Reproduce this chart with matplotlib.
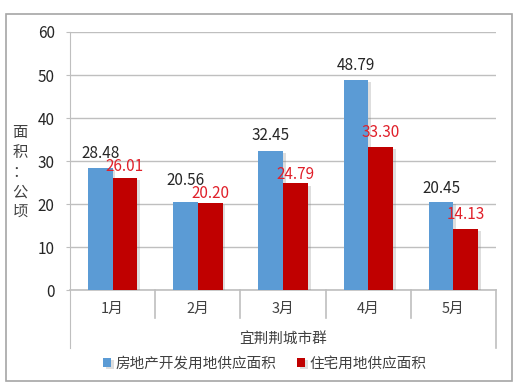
import matplotlib
matplotlib.use("Agg")
import matplotlib.pyplot as plt
import matplotlib.patheffects as pe
from matplotlib.patches import Rectangle
import numpy as np

plt.rcParams['font.family'] = ['Noto Sans CJK SC', 'DejaVu Sans']

# data
months = ["1月", "2月", "3月", "4月", "5月"]
group_name = "宜荆荆城市群"
dev_land = [28.48, 20.56, 32.45, 48.79, 20.45]
res_land = [26.01, 20.20, 24.79, 33.30, 14.13]
series_names = ["房地产开发用地供应面积", "住宅用地供应面积"]

# label offsets (points) to mimic the original placement
dev_off = [10, 15, 10.5, 10.5, 10]
res_off = [8.5, 7, 6.5, 10.5, 10.5]

blue = "#5B9BD5"
red = "#C00000"
grid_c = "#BFBFBF"
text_c = "#404040"

fig = plt.figure(figsize=(5.3, 3.9), dpi=100)
fig.patches.append(Rectangle((0.011, 0.023), 0.955, 0.941, transform=fig.transFigure,
                             fill=False, edgecolor="#A6A6A6", linewidth=1.2))

ax = fig.add_axes([0.132, 0.256, 0.804, 0.662])
x = np.arange(len(months))
w = 0.29
shadow = [pe.SimplePatchShadow(offset=(2, -1.5), shadow_rgbFace="#7F7F7F", alpha=0.25), pe.Normal()]
b1 = ax.bar(x - w / 2, dev_land, w, color=blue, label=series_names[0], zorder=3, path_effects=shadow)
b2 = ax.bar(x + w / 2, res_land, w, color=red, label=series_names[1], zorder=3, path_effects=shadow)

for i, v in enumerate(dev_land):
    ax.annotate(f"{v:.2f}", (x[i] - w / 2, v), xytext=(0, dev_off[i]), textcoords="offset points",
                ha="center", va="center", fontsize=11, color="#262626", zorder=5)
for i, v in enumerate(res_land):
    ax.annotate(f"{v:.2f}", (x[i] + w / 2, v), xytext=(0, res_off[i]), textcoords="offset points",
                ha="center", va="center", fontsize=11, color="#E0202A", zorder=5)

ax.set_xlim(-0.5, len(months) - 0.5)
ax.set_ylim(0, 60)
ax.set_yticks(range(0, 61, 10))
ax.yaxis.grid(True, color=grid_c, linewidth=1, zorder=0)
ax.tick_params(axis="y", length=3, color=grid_c, pad=8, labelsize=11, labelcolor="#262626")
ax.set_xticks([])
for s in ["top", "right", "bottom"]:
    ax.spines[s].set_visible(False)
ax.spines["left"].set_color(grid_c)
ax.spines["left"].set_bounds(-60 * 0.2248, 60)

# category table under the axis
lk = dict(transform=ax.transAxes, color=grid_c, linewidth=1.2, clip_on=False)
ax.plot([0, 1], [0, 0], **lk)
ax.plot([1, 1], [0, -0.2248], **lk)
for i in range(1, len(months)):
    ax.plot([i / len(months)] * 2, [0, -0.1085], **lk)
for i, m in enumerate(months):
    ax.text((i + 0.5) / len(months), -0.072, m, transform=ax.transAxes, ha="center", va="center",
            fontsize=10.5, color=text_c)
ax.text(0.5, -0.187, group_name, transform=ax.transAxes, ha="center", va="center",
        fontsize=10.5, color=text_c)

ax.text(-0.117, 0.457, "面\n积\n：\n公\n顷", transform=ax.transAxes, ha="center", va="center",
        fontsize=11, color=text_c, linespacing=1.2)

fig.legend(handles=[b1, b2], labels=series_names, loc="center", bbox_to_anchor=(0.5, 0.067),
           ncol=2, frameon=False, fontsize=10.5, handlelength=0.55, handleheight=0.55,
           handletextpad=0.3, columnspacing=1.4, labelcolor=text_c)

fig.savefig("out.png", dpi=100, facecolor="white")
